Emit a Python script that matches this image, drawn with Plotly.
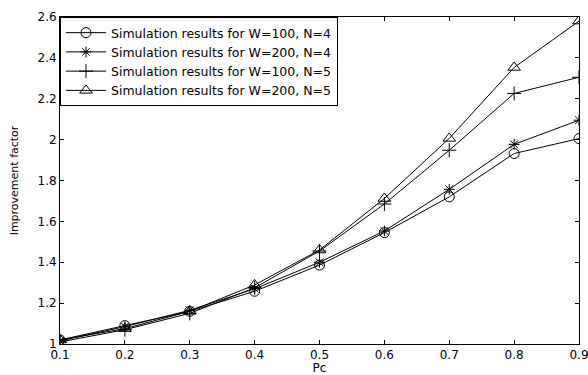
import plotly.graph_objects as go

pc = [0.1, 0.2, 0.3, 0.4, 0.5, 0.6, 0.7, 0.8, 0.9]
w100_n4 = [1.02, 1.09, 1.16, 1.258, 1.386, 1.545, 1.72, 1.932, 2.005]
w200_n4 = [1.015, 1.085, 1.165, 1.27, 1.40, 1.553, 1.757, 1.977, 2.095]
w100_n5 = [1.01, 1.07, 1.15, 1.275, 1.455, 1.685, 1.948, 2.226, 2.305]
w200_n5 = [1.02, 1.075, 1.16, 1.289, 1.46, 1.712, 2.006, 2.353, 2.58]

names = ["Simulation results for W=100, N=4",
         "Simulation results for W=200, N=4",
         "Simulation results for W=100, N=5",
         "Simulation results for W=200, N=5"]
symbols = ["circle-open", "asterisk-open", "cross-thin-open", "triangle-up-open"]
sizes = [10, 9, 10, 11]
series = [w100_n4, w200_n4, w100_n5, w200_n5]

fig = go.Figure()
for nm, sym, sz, ys in zip(names, symbols, sizes, series):
    fig.add_trace(go.Scatter(
        x=pc, y=ys, name=nm, mode="lines+markers",
        line=dict(color="black", width=1),
        marker=dict(symbol=sym, size=sz, color="black", line=dict(color="black", width=1)),
    ))

fam = "DejaVu Sans, Arial, sans-serif"
font = dict(family=fam, size=12, color="black")
fig.update_layout(
    width=588, height=375,
    margin=dict(l=60, r=9, t=17, b=31),
    paper_bgcolor="white", plot_bgcolor="white",
    font=font,
    showlegend=True,
    legend=dict(x=0, y=1, xanchor="left", yanchor="top",
                bgcolor="white", bordercolor="black", borderwidth=1,
                font=dict(family=fam, size=12.5, color="black"),
                tracegroupgap=0, itemwidth=40),
)
fig.update_xaxes(
    range=[0.1, 0.9], tickvals=pc, ticktext=[str(v) for v in pc],
    ticks="inside", ticklen=4, tickcolor="black",
    showline=True, linecolor="black", linewidth=1, mirror="ticks",
    showgrid=False, zeroline=False, automargin=False,
    ticklabeloverflow="allow",
    title=dict(text="Pc", standoff=12, font=dict(size=12)),
)
fig.update_yaxes(
    range=[1, 2.6], dtick=0.2, tick0=1,
    ticks="inside", ticklen=4, tickcolor="black",
    showline=True, linecolor="black", linewidth=1, mirror="ticks",
    showgrid=False, zeroline=False, automargin=False,
    ticklabeloverflow="allow",
    title=dict(text="Improvement factor", standoff=16, font=dict(size=11)),
)

fig.write_html("out.html")
